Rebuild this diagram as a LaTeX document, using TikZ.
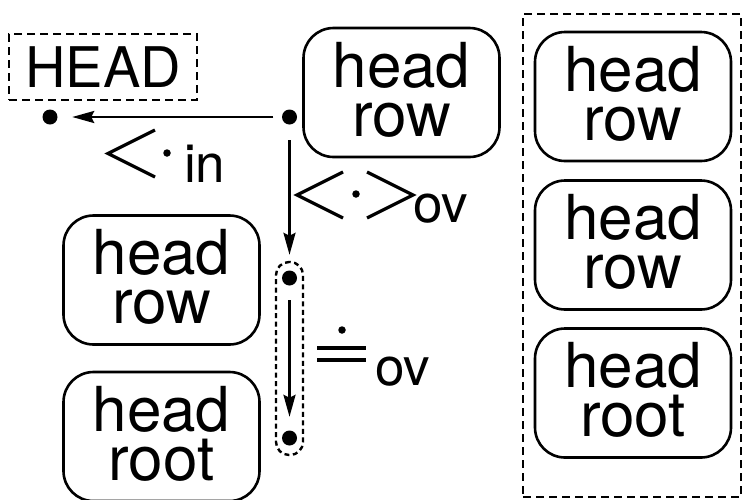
\documentclass[tikz,border=0pt]{standalone}
\usepackage{fontspec}
\setmainfont{TeX Gyre Heros}
\usetikzlibrary{arrows.meta}
\begin{document}
\begin{tikzpicture}[x=1pt,y=-1pt,
  hbox/.style={draw, line width=2.6pt, rounded corners=30pt,
    minimum width=196pt, minimum height=129pt, inner sep=0pt,
    align=center, font=\fontsize{62}{49}\selectfont, text depth=7pt},
  dashbox/.style={draw, line width=2.4pt, dash pattern=on 8pt off 5pt, inner sep=0pt},
  dotnode/.style={circle, fill, inner sep=0pt, minimum size=15pt},
  smalldot/.style={circle, fill, inner sep=0pt, minimum size=7.5pt},
  relsym/.style={line width=3.2pt, line join=miter},
  subtext/.style={font=\fontsize{53}{53}\selectfont, inner sep=0pt, anchor=base west},
  arr/.style={line width=2.6pt, -{Stealth[length=22pt,width=12pt,inset=3pt]}}]
\useasboundingbox (0,0) rectangle (743,499);

% HEAD marker and the top head/row box
\node[dashbox, minimum width=188pt, minimum height=66pt,
      font=\fontsize{56}{56}\selectfont] (headlbl) at (103,67) {HEAD};
\node[dotnode] (hd) at (50,117) {};
\node[dotnode] (rd) at (289.5,117) {};
\node[hbox] (top) at (401.5,92.5) {head\\row};

% left column
\node[hbox] (l1) at (161.5,280) {head\\row};
\node[hbox] (l2) at (161.5,436.5) {head\\root};

% dotted group of two points
\node[dotnode] (d1) at (289.5,278) {};
\node[dotnode] (d2) at (289.5,438) {};
\node[draw, line width=2.4pt, dash pattern=on 5pt off 3.5pt, rounded corners=13pt,
      minimum width=27pt, minimum height=193pt, inner sep=0pt] (grp) at (289.5,358.5) {};

% right column inside the dashed frame
\node[hbox] (r1) at (633,96.5) {head\\row};
\node[hbox] (r2) at (633,245) {head\\row};
\node[hbox] (r3) at (633,393) {head\\root};
\node[dashbox, minimum width=218pt, minimum height=483pt] (frame) at (632,255.5) {};

% arrows
\draw[arr, shorten <=8.5pt, shorten >=14.5pt] (rd.west) -- (hd.east);
\draw[arr, shorten <=15.5pt, shorten >=15.5pt] (rd.south) -- (d1.north);
\draw[arr, shorten <=14.5pt, shorten >=13.5pt] (d1.south) -- (d2.north);

% relation <. in
\draw[relsym] (155,130) -- (108,153.5) -- (155,177);
\node[smalldot] (dotin) at (167,153) {};
\node[subtext] (in) at (184,182) {in};

% relation <.> ov
\draw[relsym] (343,172) -- (297,195) -- (343,218);
\node[smalldot] (dotov) at (356,194) {};
\draw[relsym] (367,172) -- (413,195) -- (367,218);
\node[subtext] (ov1) at (413,222) {ov};

% relation dot-equals ov
\node[smalldot] (dotq) at (342,330) {};
\draw[line width=4pt] (317,348) -- (366,348);
\draw[line width=4pt] (317,360) -- (366,360);
\node[subtext] (ov2) at (375,385) {ov};
\end{tikzpicture}
\end{document}
